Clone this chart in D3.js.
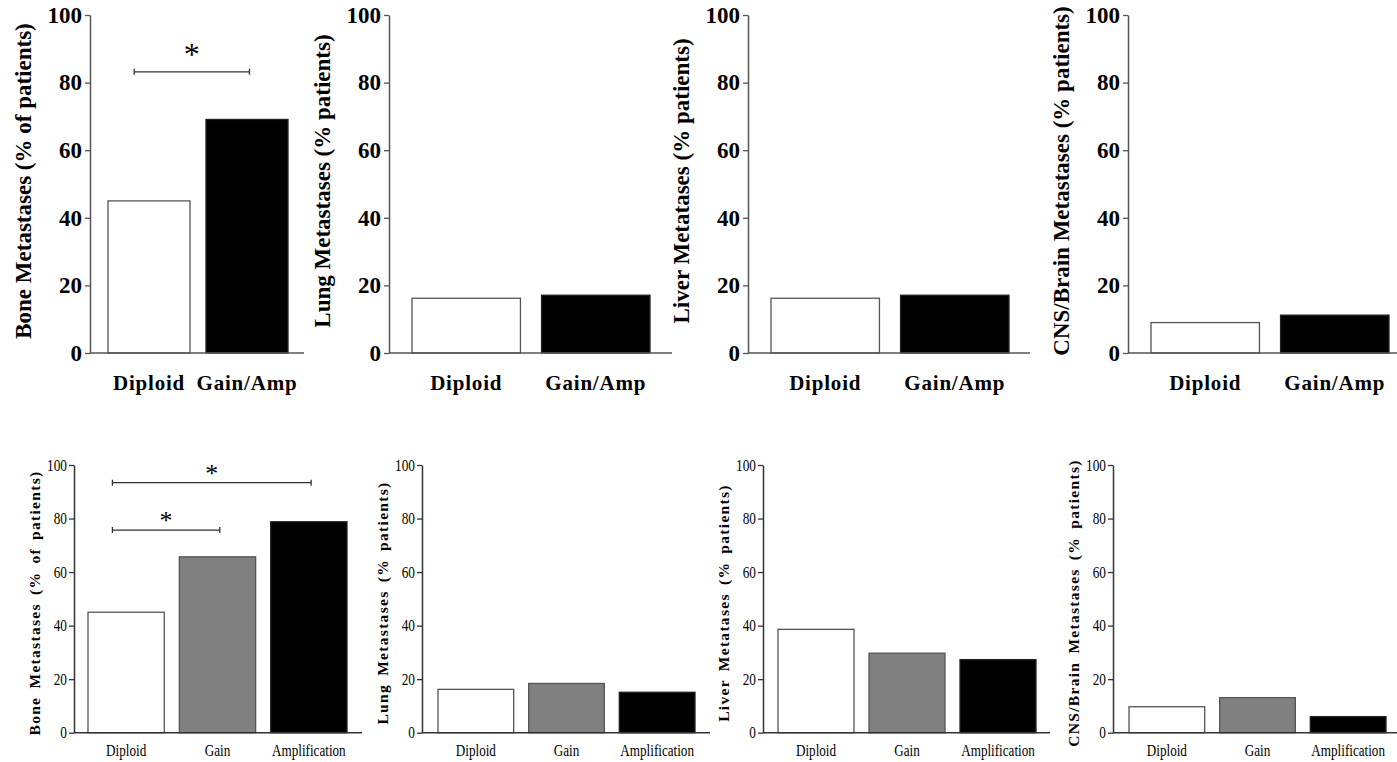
<!DOCTYPE html>
<html>
<head>
<meta charset="utf-8">
<script src="https://cdn.jsdelivr.net/npm/d3@7"></script>
<style>
  body { margin: 0; background: #fff; }
  svg { display: block; }
</style>
</head>
<body>
<svg id="chart" width="1397" height="762"></svg>
<script>
// categories
const topCategories = ["Diploid", "Gain/Amp"];
const bottomCategories = ["Diploid", "Gain", "Amplification"];
const yTicks = [0, 20, 40, 60, 80, 100];

// axis titles
const topTitles = ["Bone Metastases (% of patients)", "Lung Metastases (% patients)",
                   "Liver Metatases (% patients)", "CNS/Brain Metastases (% patients)"];
const bottomTitles = ["Bone Metastases (% of patients)", "Lung Metastases (% patients)",
                      "Liver Metatases (% patients)", "CNS/Brain Metastases (% patients)"];

// % of patients
const boneTop = [45.0, 69.1];
const lungTop = [16.2, 17.1];
const liverTop = [16.2, 17.1];
const cnsTop = [9.0, 11.2];

const boneBottom = [45.0, 65.7, 78.8];
const lungBottom = [16.2, 18.4, 15.1];
const liverBottom = [38.6, 29.7, 27.3];
const cnsBottom = [9.7, 13.1, 6.0];

// significance brackets (only bone panels)
const boneTopSig = [{ from: "Diploid", to: "Gain/Amp", level: 83.2 }];
const boneBottomSig = [
  { from: "Diploid", to: "Gain", level: 75.7 },
  { from: "Diploid", to: "Amplification", level: 93.4 }
];

const fills = { "Diploid": "#fff", "Gain": "#808080", "Gain/Amp": "#000", "Amplification": "#000" };

const svg = d3.select("#chart");

// squeeze text horizontally to mimic the narrow serif of the lower figure
function squeeze(sel, k) {
  sel.each(function() {
    const w = this.getComputedTextLength();
    d3.select(this).attr("textLength", w * k).attr("lengthAdjust", "spacingAndGlyphs");
  });
}

function drawPanel(p) {
  const y = d3.scaleLinear().domain([0, 100]).range([p.y0, p.y100]);
  const x = d3.scaleBand().domain(p.cats).range([p.barL, p.barR]).paddingInner(p.pad).paddingOuter(0);
  const g = svg.append("g");

  // bars
  g.selectAll("rect.bar")
    .data(p.values)
    .enter()
    .append("rect")
    .attr("class", "bar")
    .attr("x", (d, i) => x(p.cats[i]))
    .attr("y", d => y(d))
    .attr("width", x.bandwidth())
    .attr("height", d => y(0) - y(d))
    .attr("fill", (d, i) => fills[p.cats[i]])
    .attr("stroke", (d, i) => i === p.cats.length - 1 ? "#222" : "#555")
    .attr("stroke-width", 1.3);

  // y axis
  const ya = g.append("g")
    .attr("transform", `translate(${p.axisX},0)`)
    .call(d3.axisLeft(y).tickValues(yTicks).tickSize(5).tickSizeOuter(0).tickPadding(p.tickPad));
  ya.select(".domain").attr("stroke", p.axisColor).attr("stroke-width", 1.5);
  ya.selectAll(".tick line").attr("stroke", p.axisColor).attr("stroke-width", 1.3);
  const yt = ya.selectAll(".tick text")
    .attr("fill", "#000")
    .style("font-family", "'Liberation Serif', 'Times New Roman', serif")
    .style("font-size", p.tickFont + "px")
    .style("font-weight", p.tickWeight);
  if (p.squeeze) squeeze(yt, p.squeeze);

  // x axis baseline
  g.append("line")
    .attr("x1", p.axisX).attr("x2", p.axisEnd)
    .attr("y1", y(0)).attr("y2", y(0))
    .attr("stroke", p.axisColor).attr("stroke-width", 1.5);

  // category labels
  const xa = g.append("g")
    .attr("transform", `translate(0,${y(0)})`)
    .call(d3.axisBottom(x).tickSize(0).tickPadding(p.catPad));
  xa.select(".domain").remove();
  const xt = xa.selectAll(".tick text")
    .attr("fill", "#000")
    .style("font-family", "'Liberation Serif', 'Times New Roman', serif")
    .style("font-size", p.catFont + "px")
    .style("font-weight", p.tickWeight)
    .style("letter-spacing", p.catSpacing + "px");
  if (p.squeeze) squeeze(xt, p.catSqueeze);

  // y title
  g.append("text")
    .attr("transform", `translate(${p.axisX + p.titleDx},${p.titleY}) rotate(-90)`)
    .attr("text-anchor", "middle")
    .style("font-family", "'Liberation Serif', 'Times New Roman', serif")
    .style("font-weight", "bold")
    .style("font-size", p.titleFont + "px")
    .style("letter-spacing", p.titleSpacing + "px")
    .style("word-spacing", p.titleWordSpacing + "px")
    .text(p.title);

  // significance brackets
  (p.sig || []).forEach(s => {
    const x1 = x(s.from) + x.bandwidth() * 0.32;
    const x2 = x(s.to) + x.bandwidth() * 0.53;
    const yy = y(s.level);
    g.append("path")
      .attr("d", `M${x1},${yy - 3}V${yy + 3}M${x1},${yy}H${x2}M${x2},${yy - 3}V${yy + 3}`)
      .attr("fill", "none")
      .attr("stroke", "#333")
      .attr("stroke-width", 1.3);
    g.append("text")
      .attr("x", (x1 + x2) / 2)
      .attr("y", yy - p.starDy)
      .attr("text-anchor", "middle")
      .style("font-family", "'Liberation Serif', 'Times New Roman', serif")
      .style("font-size", p.starFont + "px")
      .text("*");
  });
}

const topValues = [boneTop, lungTop, liverTop, cnsTop];
const bottomValues = [boneBottom, lungBottom, liverBottom, cnsBottom];
const topSigs = [boneTopSig, null, null, null];
const bottomSigs = [boneBottomSig, null, null, null];

// panel frames (pixels)
const topFrames = [
  { axisX: 90, axisEnd: 304, barL: 108, barR: 288 },
  { axisX: 389, axisEnd: 672, barL: 412, barR: 650 },
  { axisX: 748, axisEnd: 1030, barL: 771, barR: 1009 },
  { axisX: 1128, axisEnd: 1397, barL: 1151, barR: 1389 }
];
const bottomFrames = [
  { axisX: 74, axisEnd: 362, barL: 88, barR: 347 },
  { axisX: 422, axisEnd: 710, barL: 438, barR: 695 },
  { axisX: 763, axisEnd: 1050, barL: 778, barR: 1036 },
  { axisX: 1113, axisEnd: 1397, barL: 1129, barR: 1386 }
];

topFrames.forEach((f, i) => drawPanel(Object.assign({}, f, {
  cats: topCategories, values: topValues[i], sig: topSigs[i], title: topTitles[i],
  y0: 353, y100: 15, pad: 0.163,
  axisColor: "#555", tickPad: 3, tickFont: 23, tickWeight: "bold", catFont: 21, catPad: 22, catSpacing: 0.8,
  titleDx: -59, titleY: 181, titleFont: 23, titleSpacing: 0, titleWordSpacing: 0,
  starDy: 7, starFont: 32
})));

bottomFrames.forEach((f, i) => drawPanel(Object.assign({}, f, {
  cats: bottomCategories, values: bottomValues[i], sig: bottomSigs[i], title: bottomTitles[i],
  y0: 732.7, y100: 465, pad: 0.165,
  axisColor: "#333", tickPad: 2, tickFont: 16, tickWeight: "normal", catFont: 16, catPad: 12, catSpacing: 0,
  squeeze: 0.83, catSqueeze: 0.82,
  titleDx: -34, titleY: 603, titleFont: 15.5, titleSpacing: 1.3, titleWordSpacing: 3,
  starDy: 1, starFont: 26
})));
</script>
</body>
</html>
